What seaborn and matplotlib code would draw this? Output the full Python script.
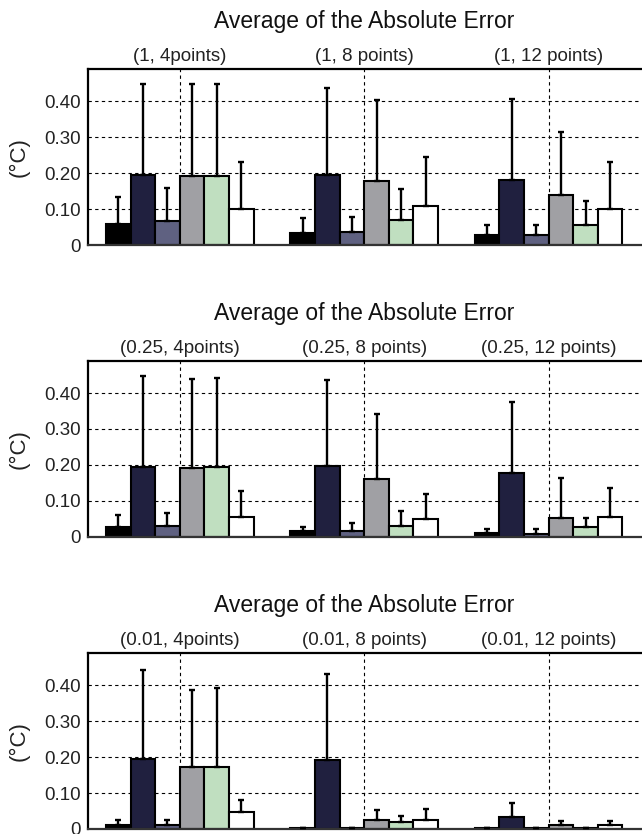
import numpy as np
import pandas as pd
import matplotlib
matplotlib.use("Agg")
import matplotlib.pyplot as plt
import seaborn as sns

# ---- data ----#
methods = ["M1", "M2", "M3", "M4", "M5", "M6"]
colors = ["#000000", "#20203f", "#5f6181", "#a0a0a4", "#c0dfc0", "#ffffff"]

labels_1 = ["(1, 4points)", "(1, 8 points)", "(1, 12 points)"]
labels_2 = ["(0.25, 4points)", "(0.25, 8 points)", "(0.25, 12 points)"]
labels_3 = ["(0.01, 4points)", "(0.01, 8 points)", "(0.01, 12 points)"]

# rows = groups, columns = methods
mean_1 = [[0.058, 0.195, 0.067, 0.193, 0.193, 0.101],
          [0.034, 0.195, 0.036, 0.177, 0.069, 0.109],
          [0.028, 0.180, 0.027, 0.138, 0.055, 0.101]]
top_1 = [[0.135, 0.448, 0.158, 0.447, 0.449, 0.230],
         [0.074, 0.436, 0.079, 0.403, 0.157, 0.244],
         [0.056, 0.407, 0.056, 0.315, 0.122, 0.230]]

mean_2 = [[0.028, 0.195, 0.031, 0.191, 0.193, 0.056],
          [0.015, 0.197, 0.017, 0.161, 0.030, 0.050],
          [0.011, 0.178, 0.007, 0.052, 0.026, 0.056]]
top_2 = [[0.060, 0.447, 0.066, 0.439, 0.443, 0.126],
         [0.027, 0.437, 0.037, 0.342, 0.071, 0.119],
         [0.020, 0.374, 0.020, 0.162, 0.051, 0.135]]

mean_3 = [[0.012, 0.196, 0.012, 0.172, 0.172, 0.047],
          [0.002, 0.192, 0.003, 0.026, 0.020, 0.026],
          [0.002, 0.034, 0.002, 0.011, 0.003, 0.011]]
top_3 = [[0.026, 0.443, 0.026, 0.386, 0.392, 0.080],
         [0.002, 0.431, 0.004, 0.052, 0.035, 0.055],
         [0.002, 0.073, 0.002, 0.023, 0.003, 0.023]]

yticks = [0, 0.1, 0.2, 0.3, 0.4]
ytick_labels = ["0", "0.10", "0.20", "0.30", "0.40"]
title = "Average of the Absolute Error"

sns.set_style("white")
plt.rcParams["font.family"] = ["Liberation Sans", "DejaVu Sans"]

fig = plt.figure(figsize=(6.42, 8.34), dpi=100)

panels = [(labels_1, mean_1, top_1, 0.7062),
          (labels_2, mean_2, top_2, 0.3565),
          (labels_3, mean_3, top_3, 0.0060)]

for labels, means, tops, bottom in panels:
    ax = fig.add_axes([0.1363, bottom, 0.862, 0.211])
    rows = []
    for g, lab in enumerate(labels):
        for m, name in enumerate(methods):
            rows.append({"group": lab, "method": name,
                         "value": means[g][m], "top": tops[g][m]})
    df = pd.DataFrame(rows)

    sns.barplot(data=df, x="group", y="value", hue="method",
                order=labels, hue_order=methods, palette=colors,
                saturation=1, edgecolor="black", linewidth=1.5,
                errorbar=None, legend=False, ax=ax, zorder=2)

    # one-sided error bars from each bar top up to mean + std
    bar_conts = list(ax.containers)
    for m, cont in enumerate(bar_conts):
        xs = [p.get_x() + p.get_width() / 2 for p in cont.patches]
        ys = [p.get_height() for p in cont.patches]
        up = [tops[g][m] - means[g][m] for g in range(len(labels))]
        ax.errorbar(xs, ys, yerr=[np.zeros(len(up)), up], fmt="none",
                    ecolor="black", elinewidth=1.7, capsize=2.5,
                    capthick=1.7, zorder=3)

    ax.set_xlim(-0.5, 2.5)
    ax.set_ylim(0, 0.49)
    ax.set_yticks(yticks)
    ax.set_yticklabels(ytick_labels)
    ax.xaxis.tick_top()
    ax.tick_params(axis="both", length=0, labelsize=13.5,
                   labelcolor="#222222")
    ax.tick_params(axis="x", pad=3)
    ax.tick_params(axis="y", pad=5)
    ax.set_xlabel("")
    ax.set_ylabel("(°C)", fontsize=16, color="#222222", labelpad=10)
    ax.grid(True, color="black", linestyle=(0, (3, 3)), linewidth=0.8)
    ax.set_axisbelow(True)
    for side in ["top", "left"]:
        ax.spines[side].set_linewidth(1.6)
        ax.spines[side].set_color("black")
    ax.spines["bottom"].set_linewidth(1.6)
    ax.spines["bottom"].set_color("#333333")
    ax.spines["right"].set_visible(False)
    ax.set_title(title, fontsize=16.5, color="#111111", y=1.185)

fig.savefig("out.png", dpi=100)
